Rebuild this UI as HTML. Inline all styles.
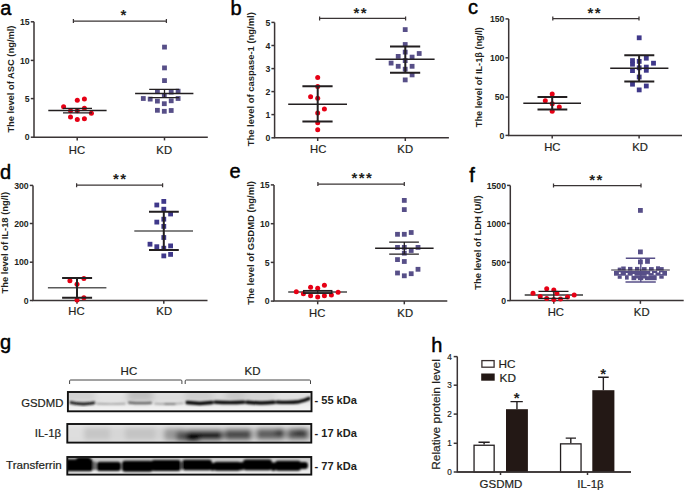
<!DOCTYPE html>
<html><head><meta charset="utf-8"><style>
html,body{margin:0;padding:0;background:#fff;}
svg{display:block;}
text{font-family:"Liberation Sans",sans-serif;fill:#111;}
.pl{font-size:20px;fill:#000;stroke:#000;stroke-width:0.45px;}
.tk{font-size:8.7px;font-weight:bold;text-anchor:end;fill:#231f20;}
.cat{font-size:11.3px;stroke:#231f20;stroke-width:0.2px;text-anchor:middle;fill:#231f20;}
.st{font-size:15px;font-weight:bold;text-anchor:middle;fill:#231f20;}
.yl{font-size:9.3px;font-weight:bold;fill:#231f20;}
.bl{font-size:11.5px;fill:#231f20;stroke:#231f20;stroke-width:0.2px;}
.kd{font-size:11px;font-weight:bold;fill:#231f20;}
.tkh{font-size:8.2px;text-anchor:end;fill:#231f20;stroke:#231f20;stroke-width:0.2px;}
.blh{font-size:11.5px;fill:#231f20;stroke:#231f20;stroke-width:0.2px;}
.ax{stroke:#3a3435;stroke-width:1.5;fill:none;}
path{fill:none;}
</style></head><body>
<svg width="685" height="491" viewBox="0 0 685 491">
<defs>
<filter id="bl1" x="-5%" y="-50%" width="110%" height="200%"><feGaussianBlur stdDeviation="1"/></filter>
<filter id="bl3" x="-5%" y="-50%" width="110%" height="200%"><feGaussianBlur stdDeviation="3"/></filter>
<filter id="bl2" x="-5%" y="-50%" width="110%" height="200%"><feGaussianBlur stdDeviation="2.4"/></filter>
<clipPath id="c1"><rect x="68.2" y="392.9" width="242.5" height="17.5"/></clipPath>
<clipPath id="c2"><rect x="68" y="424.9" width="243.3" height="16.8"/></clipPath>
<clipPath id="c3"><rect x="68" y="457.9" width="243.3" height="15.8"/></clipPath>
</defs>
<text x="0.3" y="14.5" class="pl">a</text>
<path d="M34 21.8V137.2H207.8" class="ax"/>
<path d="M30.8 21.8H34" class="ax"/>
<text x="29.7" y="24.9" class="tk">15</text>
<path d="M30.8 60.4H34" class="ax"/>
<text x="29.7" y="63.5" class="tk">10</text>
<path d="M30.8 98.6H34" class="ax"/>
<text x="29.7" y="101.7" class="tk">5</text>
<path d="M30.8 137.2H34" class="ax"/>
<text x="29.7" y="140.3" class="tk">0</text>
<path d="M77.2 137.2V140.4" class="ax"/>
<text x="77" y="153.6" class="cat">HC</text>
<path d="M164.5 137.2V140.4" class="ax"/>
<text x="164.2" y="153.6" class="cat">KD</text>
<path d="M73.4 21H166.4M73.4 19V23M166.4 19V23" class="ax" style="stroke-width:1.25"/>
<text x="123.3" y="20.25" class="st">*</text>
<text transform="translate(14.3 132.6) rotate(-90)" class="yl" textLength="107.1" lengthAdjust="spacingAndGlyphs">The level of ASC (ng/ml)</text>
<circle cx="77.3" cy="100.2" r="2.5" fill="#e60015"/>
<circle cx="84.4" cy="99.1" r="2.5" fill="#e60015"/>
<circle cx="63.6" cy="106.8" r="2.5" fill="#e60015"/>
<circle cx="84.4" cy="108.2" r="2.5" fill="#e60015"/>
<circle cx="70.5" cy="110.7" r="2.5" fill="#e60015"/>
<circle cx="77.3" cy="110.7" r="2.5" fill="#e60015"/>
<circle cx="91.4" cy="113.2" r="2.5" fill="#e60015"/>
<circle cx="70.5" cy="117" r="2.5" fill="#e60015"/>
<circle cx="77.3" cy="119.5" r="2.5" fill="#e60015"/>
<circle cx="84.4" cy="118.7" r="2.5" fill="#e60015"/>
<rect x="162.1" y="44.7" width="4.8" height="4.8" fill="#574f88"/>
<rect x="162.1" y="65.5" width="4.8" height="4.8" fill="#574f88"/>
<rect x="162.1" y="78.2" width="4.8" height="4.8" fill="#574f88"/>
<rect x="155" y="89.2" width="4.8" height="4.8" fill="#574f88"/>
<rect x="161.9" y="93.1" width="4.8" height="4.8" fill="#574f88"/>
<rect x="168.8" y="89.7" width="4.8" height="4.8" fill="#574f88"/>
<rect x="175.7" y="88.8" width="4.8" height="4.8" fill="#574f88"/>
<rect x="140.9" y="96.1" width="4.8" height="4.8" fill="#574f88"/>
<rect x="147.8" y="96.7" width="4.8" height="4.8" fill="#574f88"/>
<rect x="155" y="98.7" width="4.8" height="4.8" fill="#574f88"/>
<rect x="161.9" y="101.3" width="4.8" height="4.8" fill="#574f88"/>
<rect x="168.8" y="98.4" width="4.8" height="4.8" fill="#574f88"/>
<rect x="175.7" y="96.1" width="4.8" height="4.8" fill="#574f88"/>
<rect x="155" y="107.9" width="4.8" height="4.8" fill="#574f88"/>
<rect x="161.9" y="108.9" width="4.8" height="4.8" fill="#574f88"/>
<rect x="168.8" y="108.1" width="4.8" height="4.8" fill="#574f88"/>
<path d="M48.3 110.4H106.6" stroke="#231f20" stroke-width="1.5"/>
<path d="M63 108.3H92M63 112.8H92M77.2 108.3V112.8" stroke="#231f20" stroke-width="1.3"/>
<path d="M135.1 93.6H193.4" stroke="#231f20" stroke-width="1.5"/>
<path d="M149.2 89.3H179.1M149.2 97.6H179.1M164.5 89.3V97.6" stroke="#231f20" stroke-width="1.3"/>
<text x="230.6" y="14.5" class="pl">b</text>
<path d="M274.6 22.4V137.8H448.9" class="ax"/>
<path d="M271.4 22.4H274.6" class="ax"/>
<text x="270.3" y="25.5" class="tk">5</text>
<path d="M271.4 45.5H274.6" class="ax"/>
<text x="270.3" y="48.6" class="tk">4</text>
<path d="M271.4 68.6H274.6" class="ax"/>
<text x="270.3" y="71.7" class="tk">3</text>
<path d="M271.4 91.6H274.6" class="ax"/>
<text x="270.3" y="94.7" class="tk">2</text>
<path d="M271.4 114.6H274.6" class="ax"/>
<text x="270.3" y="117.7" class="tk">1</text>
<path d="M271.4 137.8H274.6" class="ax"/>
<text x="270.3" y="140.9" class="tk">0</text>
<path d="M317.7 137.8V141" class="ax"/>
<text x="318.2" y="152.7" class="cat">HC</text>
<path d="M405.3 137.8V141" class="ax"/>
<text x="405.2" y="152.7" class="cat">KD</text>
<path d="M319.6 18.4H405.6M319.6 16.4V20.4M405.6 16.4V20.4" class="ax" style="stroke-width:1.25"/>
<text x="356.4" y="17.65" class="st">*</text>
<text x="363.6" y="17.65" class="st">*</text>
<text transform="translate(254.3 146.3) rotate(-90)" class="yl" textLength="134.1" lengthAdjust="spacingAndGlyphs">The level of caspase-1 (ng/ml)</text>
<circle cx="317.7" cy="77.5" r="2.5" fill="#e60015"/>
<circle cx="317.7" cy="86.5" r="2.5" fill="#e60015"/>
<circle cx="310.6" cy="96.7" r="2.5" fill="#e60015"/>
<circle cx="317.7" cy="98.3" r="2.5" fill="#e60015"/>
<circle cx="324.4" cy="108.9" r="2.5" fill="#e60015"/>
<circle cx="317.7" cy="113" r="2.5" fill="#e60015"/>
<circle cx="317.7" cy="122.8" r="2.5" fill="#e60015"/>
<circle cx="317.7" cy="129.7" r="2.5" fill="#e60015"/>
<rect x="402.8" y="27.2" width="4.8" height="4.8" fill="#574f88"/>
<rect x="402.8" y="42.1" width="4.8" height="4.8" fill="#574f88"/>
<rect x="402.8" y="49.7" width="4.8" height="4.8" fill="#574f88"/>
<rect x="395.8" y="54" width="4.8" height="4.8" fill="#574f88"/>
<rect x="409.7" y="54.7" width="4.8" height="4.8" fill="#574f88"/>
<rect x="416.8" y="51.1" width="4.8" height="4.8" fill="#574f88"/>
<rect x="402.8" y="58.2" width="4.8" height="4.8" fill="#574f88"/>
<rect x="388.7" y="60.7" width="4.8" height="4.8" fill="#574f88"/>
<rect x="395.8" y="63.9" width="4.8" height="4.8" fill="#574f88"/>
<rect x="409.7" y="63.9" width="4.8" height="4.8" fill="#574f88"/>
<rect x="402.8" y="66.8" width="4.8" height="4.8" fill="#574f88"/>
<rect x="409.7" y="72.5" width="4.8" height="4.8" fill="#574f88"/>
<rect x="402.8" y="77.5" width="4.8" height="4.8" fill="#574f88"/>
<path d="M288.2 104.2H347" stroke="#231f20" stroke-width="1.5"/>
<path d="M302.4 86.3H332.6M302.4 121.5H332.6M317.7 86.3V121.5" stroke="#231f20" stroke-width="2.0"/>
<path d="M375.5 59.2H434.6" stroke="#231f20" stroke-width="1.5"/>
<path d="M390 46.4H420.2M390 72.8H420.2M405.3 46.4V72.8" stroke="#231f20" stroke-width="2.0"/>
<text x="468" y="14.3" class="pl">c</text>
<path d="M508.7 18.9V135.4H682" class="ax"/>
<path d="M505.5 18.9H508.7" class="ax"/>
<text x="504.4" y="22" class="tk">150</text>
<path d="M505.5 57.8H508.7" class="ax"/>
<text x="504.4" y="60.9" class="tk">100</text>
<path d="M505.5 97.1H508.7" class="ax"/>
<text x="504.4" y="100.2" class="tk">50</text>
<path d="M505.5 135.4H508.7" class="ax"/>
<text x="504.4" y="138.5" class="tk">0</text>
<path d="M552.2 135.4V138.6" class="ax"/>
<text x="552.3" y="150.6" class="cat">HC</text>
<path d="M639.1 135.4V138.6" class="ax"/>
<text x="640" y="150.6" class="cat">KD</text>
<path d="M552.8 18.5H639M552.8 16.5V20.5M639 16.5V20.5" class="ax" style="stroke-width:1.25"/>
<text x="590.5" y="17.75" class="st">*</text>
<text x="597.7" y="17.75" class="st">*</text>
<text transform="translate(481.7 127.2) rotate(-90)" class="yl" textLength="100.1" lengthAdjust="spacingAndGlyphs">The level of IL-1β (ng/l)</text>
<circle cx="552.2" cy="94" r="2.5" fill="#e60015"/>
<circle cx="545.3" cy="100.7" r="2.5" fill="#e60015"/>
<circle cx="552.2" cy="103.8" r="2.5" fill="#e60015"/>
<circle cx="559.3" cy="106.9" r="2.5" fill="#e60015"/>
<circle cx="552.2" cy="111.3" r="2.5" fill="#e60015"/>
<rect x="636.8" y="35.4" width="4.8" height="4.8" fill="#3f388a"/>
<rect x="643.9" y="55.8" width="4.8" height="4.8" fill="#3f388a"/>
<rect x="636.8" y="59" width="4.8" height="4.8" fill="#3f388a"/>
<rect x="630.1" y="58.2" width="4.8" height="4.8" fill="#3f388a"/>
<rect x="630.1" y="61.8" width="4.8" height="4.8" fill="#3f388a"/>
<rect x="651.1" y="60.8" width="4.8" height="4.8" fill="#3f388a"/>
<rect x="636.8" y="65.4" width="4.8" height="4.8" fill="#3f388a"/>
<rect x="643.9" y="64.7" width="4.8" height="4.8" fill="#3f388a"/>
<rect x="630.1" y="68.2" width="4.8" height="4.8" fill="#3f388a"/>
<rect x="643.9" y="67.9" width="4.8" height="4.8" fill="#3f388a"/>
<rect x="636.8" y="74.6" width="4.8" height="4.8" fill="#3f388a"/>
<rect x="630.1" y="81.8" width="4.8" height="4.8" fill="#3f388a"/>
<rect x="643.9" y="83.6" width="4.8" height="4.8" fill="#3f388a"/>
<rect x="636.8" y="87.5" width="4.8" height="4.8" fill="#3f388a"/>
<path d="M523.3 103.2H581" stroke="#231f20" stroke-width="1.5"/>
<path d="M537.5 96.9H567.3M537.5 109.5H567.3M552.2 96.9V109.5" stroke="#231f20" stroke-width="2.0"/>
<path d="M610.2 68.3H668.4" stroke="#231f20" stroke-width="1.5"/>
<path d="M624.3 55.3H654.3M624.3 81.6H654.3M639.1 55.3V81.6" stroke="#231f20" stroke-width="2.0"/>
<text x="0" y="178.5" class="pl">d</text>
<path d="M33 185.4V300.5H207.5" class="ax"/>
<path d="M29.8 185.4H33" class="ax"/>
<text x="28.7" y="188.5" class="tk">300</text>
<path d="M29.8 223.5H33" class="ax"/>
<text x="28.7" y="226.6" class="tk">200</text>
<path d="M29.8 262.2H33" class="ax"/>
<text x="28.7" y="265.3" class="tk">100</text>
<path d="M29.8 300.5H33" class="ax"/>
<text x="28.7" y="303.6" class="tk">0</text>
<path d="M77 300.5V303.7" class="ax"/>
<text x="76.5" y="315.3" class="cat">HC</text>
<path d="M163.8 300.5V303.7" class="ax"/>
<text x="164.2" y="315.3" class="cat">KD</text>
<path d="M76.6 185.2H162.6M76.6 183.2V187.2M162.6 183.2V187.2" class="ax" style="stroke-width:1.25"/>
<text x="115.9" y="184.45" class="st">*</text>
<text x="123.1" y="184.45" class="st">*</text>
<text transform="translate(8 293.5) rotate(-90)" class="yl" textLength="101.6" lengthAdjust="spacingAndGlyphs">The level of IL-18 (ng/l)</text>
<circle cx="69.9" cy="280.7" r="2.5" fill="#e60015"/>
<circle cx="83.9" cy="278.5" r="2.5" fill="#e60015"/>
<circle cx="77" cy="284.2" r="2.5" fill="#e60015"/>
<circle cx="83.9" cy="297.8" r="2.5" fill="#e60015"/>
<circle cx="77" cy="300.1" r="2.5" fill="#e60015"/>
<rect x="161.4" y="199" width="4.8" height="4.8" fill="#3f388a"/>
<rect x="154.4" y="202.6" width="4.8" height="4.8" fill="#3f388a"/>
<rect x="161.4" y="206.8" width="4.8" height="4.8" fill="#3f388a"/>
<rect x="168.2" y="211.6" width="4.8" height="4.8" fill="#3f388a"/>
<rect x="161.4" y="216.8" width="4.8" height="4.8" fill="#3f388a"/>
<rect x="154.4" y="219.7" width="4.8" height="4.8" fill="#3f388a"/>
<rect x="161.4" y="224" width="4.8" height="4.8" fill="#3f388a"/>
<rect x="161.4" y="235.1" width="4.8" height="4.8" fill="#3f388a"/>
<rect x="147.6" y="241.8" width="4.8" height="4.8" fill="#3f388a"/>
<rect x="154.4" y="244.3" width="4.8" height="4.8" fill="#3f388a"/>
<rect x="161.4" y="245.8" width="4.8" height="4.8" fill="#3f388a"/>
<rect x="168.2" y="243.5" width="4.8" height="4.8" fill="#3f388a"/>
<rect x="168.2" y="252" width="4.8" height="4.8" fill="#3f388a"/>
<rect x="161.4" y="253.5" width="4.8" height="4.8" fill="#3f388a"/>
<path d="M47.9 287.8H106.4" stroke="#5a5a5a" stroke-width="1.5"/>
<path d="M62.1 278.1H92.1M62.1 297.8H92.1M77 278.1V297.8" stroke="#231f20" stroke-width="2.0"/>
<path d="M134.3 230.9H193" stroke="#5a5a5a" stroke-width="1.5"/>
<path d="M149 211.7H178.8M149 249.9H178.8M163.8 211.7V249.9" stroke="#231f20" stroke-width="2.0"/>
<text x="229.6" y="177.8" class="pl">e</text>
<path d="M274 184.9V301.1H447.3" class="ax"/>
<path d="M270.8 184.9H274" class="ax"/>
<text x="269.7" y="188" class="tk">15</text>
<path d="M270.8 223.7H274" class="ax"/>
<text x="269.7" y="226.8" class="tk">10</text>
<path d="M270.8 262.4H274" class="ax"/>
<text x="269.7" y="265.5" class="tk">5</text>
<path d="M270.8 301.1H274" class="ax"/>
<text x="269.7" y="304.2" class="tk">0</text>
<path d="M317.7 301.1V304.3" class="ax"/>
<text x="317.2" y="316.9" class="cat">HC</text>
<path d="M404.3 301.1V304.3" class="ax"/>
<text x="405.2" y="316.9" class="cat">KD</text>
<path d="M317.9 184H404.3M317.9 182V186M404.3 182V186" class="ax" style="stroke-width:1.25"/>
<text x="354.4" y="183.25" class="st">*</text>
<text x="361.6" y="183.25" class="st">*</text>
<text x="368.8" y="183.25" class="st">*</text>
<text transform="translate(254.3 304.8) rotate(-90)" class="yl" textLength="123.7" lengthAdjust="spacingAndGlyphs">The level of GSDMD (ng/ml)</text>
<path d="M288.2 291.9H347" stroke="#4a4a4a" stroke-width="1.5"/>
<circle cx="296.3" cy="291.7" r="2.5" fill="#e60015"/>
<circle cx="303.4" cy="293.8" r="2.5" fill="#e60015"/>
<circle cx="310.6" cy="287.2" r="2.5" fill="#e60015"/>
<circle cx="317.7" cy="288.3" r="2.5" fill="#e60015"/>
<circle cx="324.4" cy="285.2" r="2.5" fill="#e60015"/>
<circle cx="310.6" cy="295.8" r="2.5" fill="#e60015"/>
<circle cx="317.7" cy="297" r="2.5" fill="#e60015"/>
<circle cx="324.4" cy="295.8" r="2.5" fill="#e60015"/>
<circle cx="331.4" cy="295" r="2.5" fill="#e60015"/>
<circle cx="338.1" cy="292.3" r="2.5" fill="#e60015"/>
<rect x="401.9" y="198" width="4.8" height="4.8" fill="#574f88"/>
<rect x="401.9" y="207.2" width="4.8" height="4.8" fill="#574f88"/>
<rect x="395.1" y="231.9" width="4.8" height="4.8" fill="#574f88"/>
<rect x="401.9" y="231.9" width="4.8" height="4.8" fill="#574f88"/>
<rect x="408.8" y="230.1" width="4.8" height="4.8" fill="#574f88"/>
<rect x="395.1" y="245" width="4.8" height="4.8" fill="#574f88"/>
<rect x="415.6" y="245" width="4.8" height="4.8" fill="#574f88"/>
<rect x="408.8" y="248.1" width="4.8" height="4.8" fill="#574f88"/>
<rect x="401.9" y="250.8" width="4.8" height="4.8" fill="#574f88"/>
<rect x="395.1" y="257.2" width="4.8" height="4.8" fill="#574f88"/>
<rect x="401.9" y="259.1" width="4.8" height="4.8" fill="#574f88"/>
<rect x="395.1" y="270.6" width="4.8" height="4.8" fill="#574f88"/>
<rect x="401.9" y="273.4" width="4.8" height="4.8" fill="#574f88"/>
<rect x="408.8" y="271.3" width="4.8" height="4.8" fill="#574f88"/>
<rect x="415.6" y="266.9" width="4.8" height="4.8" fill="#574f88"/>
<rect x="401.9" y="245" width="4.8" height="4.8" fill="#574f88"/>
<path d="M303.4 290.6H332M303.4 293.1H332M317.7 290.6V293.1" stroke="#231f20" stroke-width="1.3"/>
<path d="M375.1 248.3H433.6" stroke="#231f20" stroke-width="1.5"/>
<path d="M389.2 242.2H418.9M389.2 254.1H418.9M404.3 242.2V254.1" stroke="#231f20" stroke-width="1.3"/>
<rect x="303.6" y="290.6" width="28.2" height="2.6" fill="none" stroke="#231f20" stroke-width="1.3"/>
<text x="469.3" y="181.7" class="pl">f</text>
<path d="M510.3 185.4V300.6H683.7" class="ax"/>
<path d="M507.1 185.4H510.3" class="ax"/>
<text x="506" y="188.5" class="tk">1500</text>
<path d="M507.1 223.5H510.3" class="ax"/>
<text x="506" y="226.6" class="tk">1000</text>
<path d="M507.1 262.4H510.3" class="ax"/>
<text x="506" y="265.5" class="tk">500</text>
<path d="M507.1 300.6H510.3" class="ax"/>
<text x="506" y="303.7" class="tk">0</text>
<path d="M553.8 300.6V303.8" class="ax"/>
<text x="555.8" y="315.5" class="cat">HC</text>
<path d="M640.4 300.6V303.8" class="ax"/>
<text x="641.7" y="315.5" class="cat">KD</text>
<path d="M553.5 185.6H641M553.5 183.6V187.6M641 183.6V187.6" class="ax" style="stroke-width:1.25"/>
<text x="592.1" y="184.85" class="st">*</text>
<text x="599.3" y="184.85" class="st">*</text>
<text transform="translate(480.8 289.8) rotate(-90)" class="yl" textLength="94.4" lengthAdjust="spacingAndGlyphs">The level of LDH (U/l)</text>
<path d="M524.7 295H583" stroke="#3a3a3a" stroke-width="1.5"/>
<circle cx="533" cy="293.3" r="2.5" fill="#e60015"/>
<circle cx="540.2" cy="296.4" r="2.5" fill="#e60015"/>
<circle cx="546.7" cy="288.7" r="2.5" fill="#e60015"/>
<circle cx="553.8" cy="289.9" r="2.5" fill="#e60015"/>
<circle cx="556.9" cy="293.3" r="2.5" fill="#e60015"/>
<circle cx="546.7" cy="298.4" r="2.5" fill="#e60015"/>
<circle cx="553.8" cy="299.5" r="2.5" fill="#e60015"/>
<circle cx="560.5" cy="299.1" r="2.5" fill="#e60015"/>
<circle cx="567.5" cy="297" r="2.5" fill="#e60015"/>
<circle cx="574.2" cy="295" r="2.5" fill="#e60015"/>
<rect x="638" y="208" width="4.8" height="4.8" fill="#574f88"/>
<rect x="638" y="249.5" width="4.8" height="4.8" fill="#574f88"/>
<rect x="638" y="259.5" width="4.8" height="4.8" fill="#574f88"/>
<rect x="645.1" y="259" width="4.8" height="4.8" fill="#574f88"/>
<path d="M538.5 291.3H568.5M538.5 298.4H568.5M553.8 291.3V298.4" stroke="#231f20" stroke-width="1.3"/>
<rect x="617.7" y="267.6" width="3.5" height="2.9" fill="#574f88"/>
<rect x="621.2" y="266.5" width="4.5" height="4" fill="#574f88"/>
<rect x="628" y="266.9" width="4.4" height="3.6" fill="#574f88"/>
<rect x="635" y="266.9" width="4.4" height="3.6" fill="#574f88"/>
<rect x="642" y="267.1" width="4.6" height="3.4" fill="#574f88"/>
<rect x="649" y="267.1" width="4.7" height="3.4" fill="#574f88"/>
<rect x="656" y="266.3" width="4" height="4.2" fill="#574f88"/>
<rect x="660" y="267.1" width="3.7" height="3.4" fill="#574f88"/>
<rect x="614" y="271" width="53" height="4.7" fill="#574f88"/>
<rect x="617.7" y="275.5" width="4" height="3.3" fill="#574f88"/>
<rect x="625" y="275.5" width="3.7" height="4.1" fill="#574f88"/>
<rect x="631.5" y="275.5" width="25.2" height="4.7" fill="#574f88"/>
<rect x="659.3" y="275.5" width="4.4" height="3.2" fill="#574f88"/>
<rect x="618.9" y="272.3" width="1.8" height="1.8" fill="#fff"/>
<rect x="625.9" y="273" width="1.8" height="1.8" fill="#fff"/>
<rect x="632.7" y="274" width="1.8" height="1.8" fill="#fff"/>
<rect x="646.7" y="274.4" width="1.8" height="1.8" fill="#fff"/>
<rect x="653.7" y="273" width="1.8" height="1.8" fill="#fff"/>
<rect x="660.5" y="272.3" width="1.8" height="1.8" fill="#fff"/>
<rect x="636.2" y="278.5" width="1.8" height="1.8" fill="#fff"/>
<rect x="643.2" y="278.6" width="1.8" height="1.8" fill="#fff"/>
<rect x="650.2" y="271.3" width="1.8" height="1.8" fill="#fff"/>
<rect x="657.2" y="270.7" width="1.8" height="1.8" fill="#fff"/>
<path d="M625.8 258.3H655.2M625.5 282H655.8M640.8 258.3V282" stroke="#574f88" stroke-width="1.4"/>
<path d="M611.2 270H669.8" stroke="#2e2838" stroke-width="1.2"/>
<text x="0" y="348.9" class="pl">g</text>
<text x="128.9" y="374.7" class="bl" text-anchor="middle">HC</text>
<text x="252.6" y="374.7" class="bl" text-anchor="middle">KD</text>
<path d="M69.6 384V381Q69.6 380 70.6 380H180.9Q181.9 380 181.9 381V384M185.2 384V381Q185.2 380 186.2 380H309.5Q310.5 380 310.5 381V384" stroke="#444" stroke-width="1" fill="none"/>
<text x="63.4" y="406.5" class="bl" text-anchor="end" textLength="42.2" lengthAdjust="spacingAndGlyphs">GSDMD</text>
<text x="61.2" y="437.1" class="bl" text-anchor="end">IL-1β</text>
<text x="61.7" y="468.8" class="bl" text-anchor="end" textLength="55.6" lengthAdjust="spacingAndGlyphs">Transferrin</text>
<text x="314.5" y="403.8" class="kd" textLength="42.4" lengthAdjust="spacingAndGlyphs">- 55 kDa</text>
<text x="314.5" y="436.7" class="kd" textLength="42.4" lengthAdjust="spacingAndGlyphs">- 17 kDa</text>
<text x="314.5" y="469.5" class="kd" textLength="42.4" lengthAdjust="spacingAndGlyphs">- 77 kDa</text>
<g clip-path="url(#c1)"><g filter="url(#bl3)"><rect x="60" y="385" width="260" height="35" fill="#ededed"/><rect x="60" y="385" width="35" height="16.5" fill="#d4d4d4"/><rect x="95" y="385" width="32" height="16.5" fill="#e6e6e6"/><rect x="127" y="385" width="26" height="16.5" fill="#c2c2c2"/><rect x="153" y="385" width="32" height="16.5" fill="#e0e0e0"/><rect x="185" y="385" width="28" height="16.5" fill="#d0d0d0"/><rect x="213" y="385" width="13" height="16.5" fill="#dedede"/><rect x="226" y="385" width="19" height="16.5" fill="#cbcbcb"/><rect x="245" y="385" width="30" height="16.5" fill="#d6d6d6"/><rect x="275" y="385" width="45" height="16.5" fill="#e3e3e3"/><rect x="60" y="397.5" width="260" height="4" fill="#000" opacity="0.06"/><rect x="60" y="406" width="260" height="10" fill="#fff" opacity="0.35"/></g></g>
<g clip-path="url(#c1)"><g filter="url(#bl1)"><path d="M71 402.6Q83 405 94 402.9" stroke="#151515" stroke-width="3" stroke-linecap="round" fill="none"/><path d="M97 403.6Q111 404.3 125 403.6" stroke="#9c9c9c" stroke-width="1.6" stroke-linecap="round" fill="none"/><path d="M129 402.6Q140 403.6 151 402.9" stroke="#5a5a5a" stroke-width="2.2" stroke-linecap="round" fill="none"/><path d="M155 403.6Q169 404.2 183 403.3" stroke="#a0a0a0" stroke-width="1.6" stroke-linecap="round" fill="none"/><path d="M165 403.9H175" stroke="#707070" stroke-width="1.6" stroke-linecap="round" fill="none"/><path d="M187 402.6Q200 404.2 212 402.6" stroke="#000" stroke-width="3.5" stroke-linecap="round" fill="none"/><path d="M215 402.1Q230 403.1 244 402.1" stroke="#000" stroke-width="3.3" stroke-linecap="round" fill="none"/><path d="M247 402.3Q261 403.6 274 402.3" stroke="#000" stroke-width="3.5" stroke-linecap="round" fill="none"/><path d="M277 402.1Q290 402.8 299 401.7Q305 400.6 309 398.6" stroke="#000" stroke-width="3.4" stroke-linecap="round" fill="none"/></g></g>
<rect x="67.9" y="392" width="243.6" height="19.3" fill="none" stroke="#111" stroke-width="1.9"/>
<g clip-path="url(#c2)"><g filter="url(#bl2)"><rect x="60" y="418" width="260" height="30" fill="#c9c9c9"/><rect x="60" y="418" width="260" height="8.8" fill="#e9e9e9"/><rect x="60" y="440.2" width="260" height="6" fill="#dedede"/><rect x="60" y="427" width="24" height="13" fill="#dedede"/><rect x="84" y="427" width="26" height="13" fill="#c6c6c6"/><rect x="110" y="427" width="15" height="13" fill="#d6d6d6"/><rect x="125" y="427" width="30" height="13" fill="#c4c4c4"/><rect x="155" y="427" width="11" height="13" fill="#d2d2d2"/><rect x="164" y="428.5" width="22" height="12.5" rx="4" fill="#999999"/><rect x="176" y="431" width="14" height="11" rx="4" fill="#555555"/><rect x="186" y="430" width="37" height="11" rx="4" fill="#1c1c1c"/><rect x="186" y="434" width="14" height="9" rx="4" fill="#000000"/><rect x="224" y="429" width="28" height="11.5" rx="4" fill="#4c4c4c"/><rect x="256" y="428.5" width="29" height="11.5" rx="4" fill="#5e5e5e"/><rect x="275" y="428.5" width="10" height="7" rx="4" fill="#333333"/><rect x="287" y="428.5" width="22" height="11.5" rx="4" fill="#585858"/><rect x="294" y="428.5" width="12" height="7.5" rx="4" fill="#343434"/></g></g>
<rect x="67.3" y="424" width="244" height="18.6" fill="none" stroke="#111" stroke-width="1.9"/>
<g clip-path="url(#c3)"><g filter="url(#bl3)"><rect x="60" y="450" width="260" height="30" fill="#e4e4e4"/><rect x="60" y="450" width="260" height="10.5" fill="#bcbcbc"/><rect x="60" y="471.5" width="260" height="8" fill="#f6f6f6"/></g></g>
<g clip-path="url(#c3)"><g filter="url(#bl1)"><rect x="64" y="459.3" width="29" height="11.9" rx="3" fill="#000"/><rect x="76" y="457.3" width="15" height="6.2" rx="3" fill="#000"/><rect x="96.5" y="461.8" width="24.5" height="9.2" rx="3" fill="#000"/><rect x="122" y="460.8" width="31" height="11" rx="3" fill="#000"/><rect x="151" y="460" width="30" height="11" rx="3" fill="#000"/><rect x="182" y="459.8" width="30" height="10.5" rx="3" fill="#000"/><rect x="210" y="462.8" width="5" height="8" rx="3" fill="#000"/><rect x="213.5" y="461.8" width="27.5" height="9" rx="3" fill="#000"/><rect x="239" y="462" width="5" height="8.3" rx="3" fill="#000"/><rect x="243" y="459.4" width="29" height="10.9" rx="3" fill="#000"/><rect x="271" y="462.3" width="5" height="8.7" rx="3" fill="#000"/><rect x="275" y="460.8" width="26" height="10" rx="3" fill="#000"/><rect x="299" y="462" width="9" height="7" rx="3" fill="#000"/><rect x="93" y="461.5" width="3.5" height="8.5" fill="#6a6a6a"/><rect x="180.8" y="461.5" width="1.5999999999999943" height="8.5" fill="#6a6a6a"/></g></g>
<rect x="67.3" y="457" width="244" height="17.6" fill="none" stroke="#111" stroke-width="1.9"/>
<text x="431.2" y="351.7" class="pl">h</text>
<path d="M457.3 356.6V472H631" class="ax"/>
<path d="M453.7 356.6H457.3" class="ax"/>
<text x="451.8" y="359.5" class="tkh">4</text>
<path d="M453.7 385.2H457.3" class="ax"/>
<text x="451.8" y="388.1" class="tkh">3</text>
<path d="M453.7 414.1H457.3" class="ax"/>
<text x="451.8" y="417" class="tkh">2</text>
<path d="M453.7 443.3H457.3" class="ax"/>
<text x="451.8" y="446.2" class="tkh">1</text>
<path d="M453.7 472H457.3" class="ax"/>
<text x="451.8" y="474.9" class="tkh">0</text>
<path d="M500.5 472V475" class="ax"/>
<path d="M587.5 472V475" class="ax"/>
<text x="501" y="488.3" class="blh" text-anchor="middle">GSDMD</text>
<text x="590.5" y="488.3" class="blh" text-anchor="middle">IL-1β</text>
<text transform="translate(440.4 469.8) rotate(-90)" class="yl" style="font-size:10.5px;font-weight:normal;stroke:#231f20;stroke-width:0.2px" textLength="110.6" lengthAdjust="spacingAndGlyphs">Relative protein level</text>
<rect x="481.9" y="360.6" width="12.2" height="6.6" fill="#fff" stroke="#3a3030" stroke-width="1.3"/>
<rect x="481.2" y="373.5" width="13.5" height="7.2" fill="#231815"/>
<text x="498.6" y="367.9" class="blh" style="font-size:11.8px">HC</text>
<text x="499.6" y="381.6" class="blh" style="font-size:11.8px">KD</text>
<path d="M484.1 444.6V442.3M478.5 442.3H489.7" stroke="#231f20" stroke-width="1.4"/>
<rect x="474.05" y="445.25" width="20.1" height="26.75" fill="#fff" stroke="#231f20" stroke-width="1.3"/>
<path d="M516.95 409.2V401.6M510.5 401.6H522.8" stroke="#231f20" stroke-width="1.4"/>
<rect x="506" y="409.2" width="21.9" height="62.8" fill="#231815"/>
<path d="M570.8 443.2V438.1M565.7 438.1H576" stroke="#231f20" stroke-width="1.4"/>
<rect x="560.55" y="443.85" width="20.5" height="28.15" fill="#fff" stroke="#231f20" stroke-width="1.3"/>
<path d="M603.35 390.2V377.3M598.1 377.3H608.7" stroke="#231f20" stroke-width="1.4"/>
<rect x="592.3" y="390.2" width="22.1" height="81.8" fill="#231815"/>
<path d="M457.3 472H631" class="ax"/>
<text x="516.7" y="402.75" class="st">*</text>
<text x="603.2" y="379.15" class="st">*</text>
</svg>
</body></html>
